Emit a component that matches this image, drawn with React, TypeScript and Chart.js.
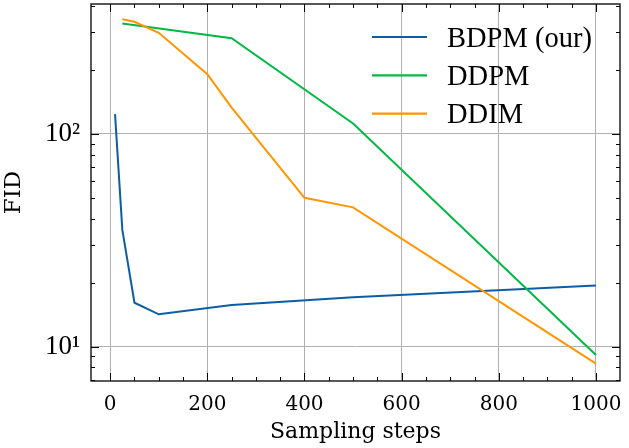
import { useEffect, useRef } from "react";
import { Chart, registerables } from "chart.js";

Chart.register(...registerables);

// ---- data ----
const bdpmSteps = [10, 25, 50, 100, 250, 500, 1000];
const bdpmFid = [124, 35.4, 16.1, 14.2, 15.7, 17.1, 19.4];
const ddpmSteps = [25, 250, 500, 1000];
const ddpmFid = [331, 282, 112, 9.15];
const ddimSteps = [25, 50, 100, 200, 250, 400, 500, 1000];
const ddimFid = [346, 337, 299, 191, 133, 50.1, 45.2, 8.32];
const seriesLabels = ["BDPM (our)", "DDPM", "DDIM"];
const seriesColors = ["#0C5DA5", "#00B945", "#FF9500"];
const xTickValues = [0, 200, 400, 600, 800, 1000];
const yTickValues = [10, 100];
const yTickLabels = ["10¹", "10²"];
const xTitle = "Sampling steps";
const yTitle = "FID";

const toPoints = (xs: number[], ys: number[]) => xs.map((x, i) => ({ x, y: ys[i] }));

const axisDecor = {
  id: "axisDecor",
  afterDraw(chart: any) {
    const { ctx, chartArea, scales } = chart;
    const { left, right, top, bottom } = chartArea;
    const x = scales.x;
    const y = scales.y;
    ctx.save();
    ctx.strokeStyle = "#000";
    ctx.lineWidth = 1;
    const seg = (x1: number, y1: number, x2: number, y2: number) => {
      ctx.beginPath();
      ctx.moveTo(x1, y1);
      ctx.lineTo(x2, y2);
      ctx.stroke();
    };
    for (let v = Math.ceil(x.min / 50) * 50; v <= x.max; v += 50) {
      const px = Math.round(x.getPixelForValue(v)) + 0.5;
      const len = v % 200 === 0 ? 8 : 4;
      seg(px, bottom, px, bottom - len);
      seg(px, top, px, top + len);
    }
    const e0 = Math.floor(Math.log10(y.min));
    const e1 = Math.ceil(Math.log10(y.max));
    for (let e = e0; e <= e1; e++) {
      for (let k = 1; k <= 9; k++) {
        const v = k * Math.pow(10, e);
        if (v < y.min || v > y.max) continue;
        const py = Math.round(y.getPixelForValue(v)) + 0.5;
        const len = k === 1 ? 8 : 4;
        seg(left, py, left + len, py);
        seg(right, py, right - len, py);
      }
    }
    ctx.lineWidth = 1.3;
    ctx.strokeRect(left, top, right - left, bottom - top);
    ctx.restore();
  },
};

const customLegend = {
  id: "customLegend",
  afterDraw(chart: any) {
    const { ctx, chartArea } = chart;
    const lineStart = chartArea.right - 248;
    const lineEnd = chartArea.right - 193;
    const textX = chartArea.right - 173;
    ctx.save();
    ctx.font = "28.5px 'Liberation Serif'";
    ctx.textAlign = "left";
    ctx.textBaseline = "alphabetic";
    chart.data.datasets.forEach((ds: any, i: number) => {
      const ly = 37 + i * 38.3;
      ctx.strokeStyle = ds.borderColor;
      ctx.lineWidth = 2.2;
      ctx.beginPath();
      ctx.moveTo(lineStart, ly);
      ctx.lineTo(lineEnd, ly);
      ctx.stroke();
      ctx.fillStyle = "#000";
      ctx.fillText(ds.label, textX, ly + 9.7);
    });
    ctx.restore();
  },
};

export default function App() {
  const canvasRef = useRef<HTMLCanvasElement | null>(null);

  useEffect(() => {
    const canvas = canvasRef.current;
    if (!canvas) return;
    const series = [
      { steps: bdpmSteps, fid: bdpmFid },
      { steps: ddpmSteps, fid: ddpmFid },
      { steps: ddimSteps, fid: ddimFid },
    ];
    const chart = new Chart(canvas, {
      type: "line",
      data: {
        datasets: series.map((s, i) => ({
          label: seriesLabels[i],
          data: toPoints(s.steps, s.fid),
          borderColor: seriesColors[i],
          backgroundColor: seriesColors[i],
          borderWidth: 2,
          pointRadius: 0,
          tension: 0,
          fill: false,
          order: 2 - i,
        })),
      },
      options: {
        responsive: false,
        animation: false,
        layout: { padding: { left: 0, top: 4, right: 9, bottom: 0 } },
        plugins: {
          legend: { display: false },
          tooltip: { enabled: false },
        },
        scales: {
          x: {
            type: "linear",
            min: -39.5,
            max: 1049.5,
            bounds: "data",
            afterBuildTicks: (s: any) => {
              s.ticks = xTickValues.map((v) => ({ value: v }));
            },
            afterFit: (s: any) => {
              s.height = 67;
              s.paddingLeft = 0;
              s.paddingRight = 0;
              s.paddingTop = 0;
              s.paddingBottom = 0;
            },
            ticks: {
              autoSkip: false,
              maxRotation: 0,
              padding: 12,
              color: "#000",
              font: { family: "'DejaVu Serif'", size: 20 },
              callback: (v: any) => String(v),
            },
            grid: { color: "#b0b0b0", lineWidth: 1, drawTicks: false },
            border: { display: false },
            title: {
              display: true,
              text: xTitle,
              color: "#000",
              font: { family: "'DejaVu Serif'", size: 22 },
              padding: { top: 0, bottom: 3 },
            },
          },
          y: {
            type: "logarithmic",
            min: 6.9,
            max: 408.3,
            bounds: "data",
            afterBuildTicks: (s: any) => {
              s.ticks = yTickValues.map((v) => ({ value: v }));
            },
            afterFit: (s: any) => {
              s.width = 91;
              s.paddingLeft = 0;
              s.paddingRight = 0;
              s.paddingTop = 0;
              s.paddingBottom = 0;
            },
            ticks: {
              autoSkip: false,
              padding: 11,
              color: "#000",
              font: { family: "'Liberation Serif'", size: 27 },
              callback: (v: any) => {
                const idx = yTickValues.indexOf(Number(v));
                return idx >= 0 ? yTickLabels[idx] : "";
              },
            },
            grid: { color: "#b0b0b0", lineWidth: 1, drawTicks: false },
            border: { display: false },
            title: {
              display: true,
              text: yTitle,
              color: "#000",
              font: { family: "'DejaVu Serif'", size: 23 },
              padding: { top: 0, bottom: 0 },
            },
          },
        },
      },
      plugins: [axisDecor, customLegend],
    });
    return () => chart.destroy();
  }, []);

  return (
    <div style={{ position: "fixed", left: 0, top: 0, width: 629, height: 448, background: "#fff" }}>
      <canvas ref={canvasRef} width={629} height={448} style={{ display: "block" }} />
    </div>
  );
}
